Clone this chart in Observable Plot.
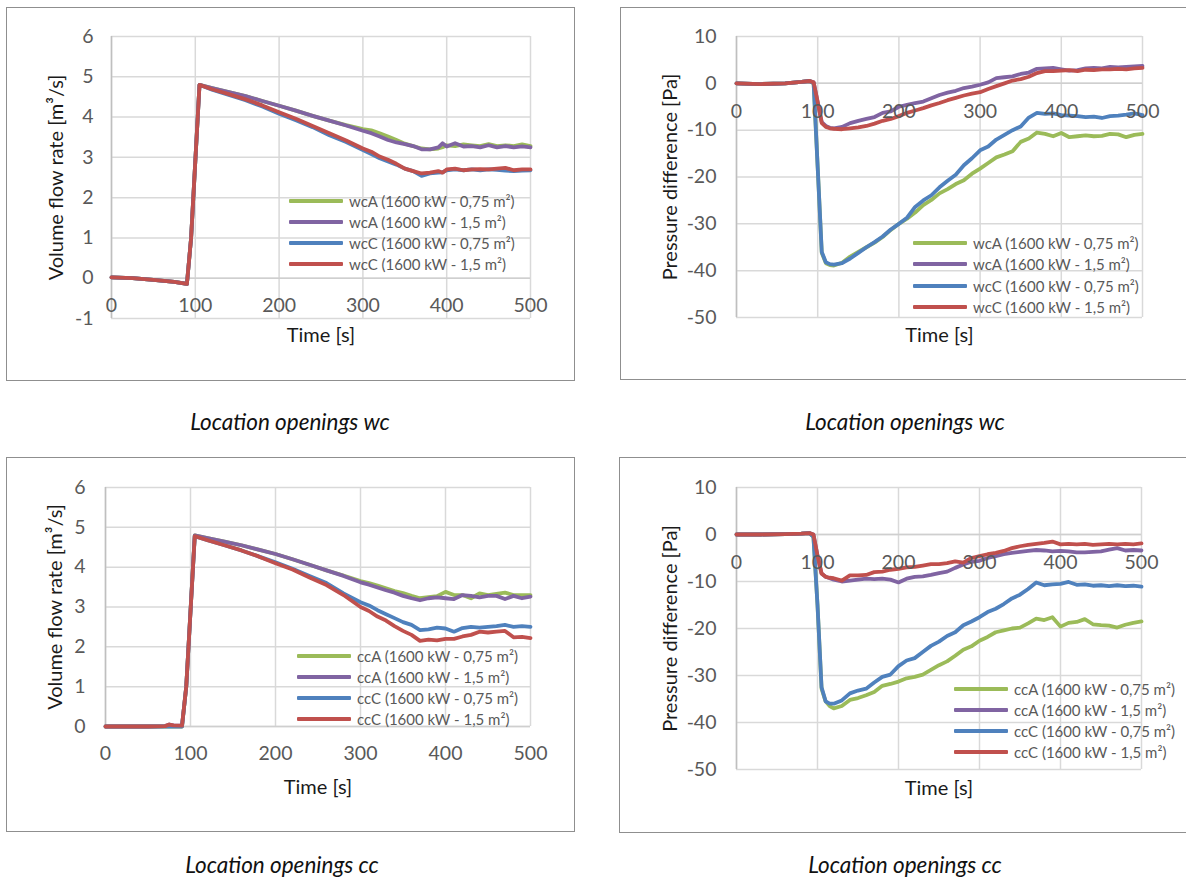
<!DOCTYPE html>
<html><head><meta charset="utf-8">
<script src="https://cdn.jsdelivr.net/npm/d3@7"></script>
<script src="https://cdn.jsdelivr.net/npm/@observablehq/plot@0.6"></script>
<style>
body{margin:0;background:#fff;width:1186px;height:879px;overflow:hidden;position:relative;font-family:Lato,sans-serif}
.frame{position:absolute;border:1.5px solid #8f8f8f;box-sizing:border-box}
.chart{position:absolute}
.lrow{position:absolute;white-space:nowrap;font-size:15px;color:#595959;height:18px;line-height:18px}
.sw{position:absolute;height:4px;top:7px;border-radius:1px}
.caption{position:absolute;font-style:italic;font-size:22.5px;color:#111;white-space:nowrap;transform:translate(-50%,-50%)}
</style></head><body>
<script>
// ---------- data ----------
const seriesColors = ["#9BBB59", "#8064A2", "#4F81BD", "#C0504D"];
const xTicks = [0, 100, 200, 300, 400, 500];
const flowTicks = [-1, 0, 1, 2, 3, 4, 5, 6];
const flowTicksCc = [0, 1, 2, 3, 4, 5, 6];
const pressTicks = [-50, -40, -30, -20, -10, 0, 10];
const wcNames = ["wcA (1600 kW - 0,75 m²)", "wcA (1600 kW - 1,5 m²)", "wcC (1600 kW - 0,75 m²)", "wcC (1600 kW - 1,5 m²)"];
const ccNames = ["ccA (1600 kW - 0,75 m²)", "ccA (1600 kW - 1,5 m²)", "ccC (1600 kW - 0,75 m²)", "ccC (1600 kW - 1,5 m²)"];

// wc flow
const tWcFlow = [0,25,50,75,90,95,105,120,140,160,180,200,220,240,260,280,300,310,320,330,340,350,360,370,380,390,395,400,410,420,430,440,450,460,470,480,490,500];
const wcFlowA075 = [0.02,0,-0.04,-0.09,-0.14,1.0, 4.8,4.72,4.62,4.52,4.4,4.28,4.16,4.03,3.91,3.8, 3.7,3.67,3.6,3.52,3.43,3.34,3.28,3.22,3.2,3.22, 3.25, 3.3,3.28,3.32,3.3,3.28,3.33,3.28,3.3,3.28,3.32,3.28];
const wcFlowA15  = [0.02,0,-0.04,-0.09,-0.14,1.0, 4.8,4.72,4.62,4.52,4.4,4.28,4.16,4.03,3.91,3.79, 3.66,3.6,3.52,3.43,3.37,3.33,3.28,3.2,3.2,3.25, 3.35, 3.27,3.35,3.27,3.28,3.25,3.3,3.25,3.28,3.25,3.27,3.25];
const wcFlowC075 = [0.02,0,-0.04,-0.09,-0.14,1.0, 4.8,4.68,4.55,4.42,4.26,4.08,3.92,3.75,3.55,3.38, 3.18,3.08,2.98,2.9,2.82,2.72,2.66,2.54,2.6,2.62, 2.63, 2.68,2.7,2.68,2.7,2.68,2.7,2.69,2.67,2.66,2.67,2.68];
const wcFlowC15  = [0.02,0,-0.04,-0.09,-0.14,1.0, 4.8,4.69,4.57,4.44,4.29,4.12,3.96,3.78,3.6,3.42, 3.22,3.14,3.02,2.94,2.84,2.72,2.66,2.6,2.62,2.66, 2.62, 2.7,2.72,2.68,2.7,2.71,2.7,2.72,2.74,2.68,2.7,2.7];

// cc flow
const tCcFlow = [0,25,50,70,75,80,90,95,105,120,140,160,180,200,220,240,260,280,300,310,320,330,340,350,360,370,380,390,400,410,420,430,440,450,460,470,480,490,500];
const ccFlowA075 = [0,0,0,0,0,0,0,1.0, 4.8,4.73,4.64,4.55,4.44,4.33,4.2,4.06,3.92,3.79, 3.65,3.6,3.54,3.47,3.4,3.35,3.28,3.22,3.25,3.27,3.38,3.3,3.3,3.22,3.34,3.3,3.33,3.36,3.3,3.3,3.3];
const ccFlowA15  = [0,0,0,0.01,0.05,0.03,0.02,1.0, 4.8,4.73,4.64,4.55,4.44,4.33,4.2,4.06,3.92,3.78, 3.62,3.56,3.49,3.42,3.36,3.28,3.22,3.17,3.22,3.24,3.22,3.2,3.3,3.28,3.24,3.28,3.28,3.2,3.28,3.22,3.26];
const ccFlowC075 = [0,0,0,0,0,0,0,1.0, 4.78,4.68,4.55,4.42,4.27,4.12,3.96,3.78,3.6,3.34, 3.12,3.04,2.92,2.82,2.72,2.62,2.55,2.42,2.44,2.48,2.46,2.38,2.47,2.5,2.48,2.5,2.52,2.55,2.5,2.52,2.5];
const ccFlowC15  = [0,0,0,0.01,0.05,0.03,0.02,1.0, 4.78,4.68,4.55,4.42,4.27,4.1,3.94,3.74,3.55,3.3, 3.0,2.9,2.76,2.66,2.52,2.4,2.3,2.15,2.18,2.16,2.2,2.2,2.26,2.3,2.38,2.36,2.38,2.4,2.24,2.25,2.22];

// pressure time grid
const tPress = [0,30,60,80,90,95,100,105,110,115,120,130,140,150,160,170,180,190,200,210,220,230,240,250,260,270,280,290,300,310,320,330,340,350,360,370,380,390,400,410,420,430,440,450,460,470,480,490,500];

// wc pressure
const wcPressA075 = [0,-0.15,0,0.3,0.5,0,-18,-36.2,-38.4,-38.8,-38.9, -38.3,-37.0,-36.0,-35.0,-34.0,-32.8,-31.3,-30.0,-28.9,-27.6,-26.0,-24.9,-23.5,-22.6,-21.5,-20.7,-19.3,-18.2,-17.0,-15.8,-15.2,-14.5,-12.5,-11.8,-10.5,-10.8,-11.3,-10.6,-11.5,-11.3,-11.1,-11.3,-11.2,-10.8,-10.9,-11.5,-11.0,-10.8];
const wcPressA15  = [0,-0.15,0,0.3,0.5,0.2,-4,-8.3,-9.1,-9.5,-9.6, -9.3,-8.5,-8.0,-7.6,-7.2,-6.3,-6.0,-5.0,-4.6,-4.2,-3.9,-3.2,-2.5,-2.0,-1.6,-1.0,-0.7,-0.3,0.2,1.1,1.3,1.5,2.0,2.3,3.1,3.2,3.3,3.0,2.7,2.8,3.2,3.3,3.2,3.5,3.4,3.5,3.6,3.7];
const wcPressC075 = [0,-0.15,0,0.3,0.5,0,-18,-36,-38.2,-38.6,-38.7, -38.4,-37.4,-36.2,-35.0,-33.9,-32.7,-31.2,-30.0,-28.7,-26.4,-25.0,-23.9,-22.2,-20.8,-19.5,-17.5,-16.0,-14.3,-13.5,-12.0,-11.0,-10.0,-9.2,-7.3,-6.3,-6.5,-6.4,-6.8,-6.9,-7.0,-7.2,-7.1,-7.4,-7.0,-6.9,-6.7,-6.4,-6.8];
const wcPressC15  = [0,-0.15,0,0.3,0.5,0.2,-4,-8.5,-9.3,-9.6,-9.7, -9.8,-9.6,-9.4,-9.1,-8.6,-8.0,-7.6,-7.0,-6.3,-5.8,-5.3,-4.7,-4.2,-3.6,-3.1,-2.6,-2.2,-1.9,-1.2,-0.6,0.0,0.6,0.9,1.4,2.2,2.6,2.6,2.7,2.8,2.6,2.9,2.8,3.0,3.0,3.1,3.0,3.2,3.3];

// cc pressure
const ccPressA075 = [0,0,0.1,0.2,0.3,-0.5,-15,-32.8,-35.5,-36.5,-37.0, -36.5,-35.2,-34.8,-34.2,-33.5,-32.2,-31.8,-31.3,-30.6,-30.3,-29.8,-28.8,-27.8,-27.0,-25.8,-24.5,-23.8,-22.6,-21.8,-20.8,-20.4,-20.0,-19.8,-18.9,-17.9,-18.2,-17.6,-19.6,-18.8,-18.6,-18.0,-19.1,-19.3,-19.4,-19.8,-19.2,-18.8,-18.5];
const ccPressA15  = [0,0,0.1,0.2,0.3,0,-4.5,-8.3,-9.0,-9.3,-9.6, -10.0,-9.8,-9.6,-9.4,-9.5,-9.4,-9.6,-10.2,-9.4,-9.0,-8.9,-8.6,-8.2,-7.9,-7.1,-6.4,-5.8,-5.6,-5.0,-4.6,-4.2,-3.9,-3.7,-3.5,-3.3,-3.4,-3.6,-3.5,-3.6,-3.8,-3.8,-3.7,-3.6,-3.2,-2.9,-3.4,-3.3,-3.4];
const ccPressC075 = [0,0,0.1,0.2,0.3,-0.5,-15,-32.5,-35.5,-36.0,-36.0, -35.3,-33.8,-33.2,-32.8,-31.5,-30.3,-29.8,-28.0,-26.8,-26.3,-25.0,-23.7,-22.8,-21.6,-20.8,-19.3,-18.5,-17.6,-16.5,-15.8,-14.8,-13.6,-12.8,-11.6,-10.2,-10.8,-10.6,-10.5,-10.1,-10.7,-10.6,-10.9,-10.8,-11.0,-10.8,-11.0,-10.9,-11.1];
const ccPressC15  = [0,0,0.1,0.2,0.3,0,-4.5,-8.3,-9.0,-9.2,-9.3, -9.8,-8.7,-8.7,-8.6,-8.0,-7.9,-7.5,-7.3,-7.0,-6.9,-6.6,-6.3,-6.3,-6.1,-5.7,-6.0,-5.0,-4.6,-4.2,-3.9,-3.5,-2.9,-2.5,-2.2,-2.0,-1.8,-1.5,-2.1,-2.0,-2.1,-2.0,-2.2,-2.1,-2.0,-2.1,-2.0,-2.1,-1.9];

// ---------- drawing ----------
const FONT = "Lato, sans-serif";
function panel(cfg) {
  const {box, svg, m, times, series, yDomain, yTicks, yLabel, tickDx, tickDy, titleDy, yTitleDx, legend, names} = cfg;
  const fr = document.createElement("div");
  fr.className = "frame";
  Object.assign(fr.style, {left: box[0] + "px", top: box[1] + "px", width: box[2] + "px", height: box[3] + "px"});
  document.body.appendChild(fr);

  const marks = [
    Plot.ruleY(yTicks, {stroke: "#d9d9d9", strokeWidth: 1.5}),
    Plot.ruleX(xTicks, {stroke: "#d9d9d9", strokeWidth: 1.5}),
    Plot.ruleX([0], {stroke: "#bfbfbf", strokeWidth: 1.5}),
    Plot.ruleY([0], {stroke: "#cfcfcf", strokeWidth: 1.5})
  ];
  series.forEach((vals, k) => {
    marks.push(Plot.line(vals, {x: (d, i) => times[i], y: d => d, stroke: seriesColors[k], strokeWidth: 3.8, strokeLinejoin: "round", strokeLinecap: "round"}));
  });
  marks.push(
    Plot.text(xTicks, {x: d => d, y: () => 0, dy: tickDy, text: d => String(d), fill: "#595959", fontSize: 19.5, fontFamily: FONT, lineAnchor: "middle"}),
    Plot.text(yTicks, {y: d => d, frameAnchor: "left", dx: tickDx, textAnchor: "end", lineAnchor: "middle", text: d => String(d), fill: "#595959", fontSize: 19.5, fontFamily: FONT}),
    Plot.text(["Time [s]"], {frameAnchor: "bottom", dy: titleDy, textAnchor: "middle", lineAnchor: "middle", text: d => d, fill: "#1a1a1a", fontSize: 20, fontFamily: FONT}),
    Plot.text([yLabel], {frameAnchor: "left", dx: yTitleDx, rotate: -90, textAnchor: "middle", lineAnchor: "middle", text: d => d, fill: "#1a1a1a", fontSize: 20, fontFamily: FONT})
  );
  const chart = Plot.plot({
    width: svg[2], height: svg[3],
    marginLeft: m[0], marginRight: m[1], marginTop: m[2], marginBottom: m[3],
    x: {domain: [0, 500], axis: null},
    y: {domain: yDomain, axis: null},
    style: {background: "transparent", fontFamily: FONT, overflow: "visible"},
    marks
  });
  const wrap = document.createElement("div");
  wrap.className = "chart";
  Object.assign(wrap.style, {left: svg[0] + "px", top: svg[1] + "px"});
  wrap.appendChild(chart);
  document.body.appendChild(wrap);

  // legend (HTML)
  names.forEach((nm, k) => {
    const row = document.createElement("div");
    row.className = "lrow";
    Object.assign(row.style, {left: legend.x + "px", top: (legend.ys[k] - 9) + "px", paddingLeft: (legend.w + 6) + "px"});
    const sw = document.createElement("span");
    sw.className = "sw";
    Object.assign(sw.style, {left: "0px", width: legend.w + "px", background: seriesColors[k]});
    row.appendChild(sw);
    row.appendChild(document.createTextNode(nm));
    document.body.appendChild(row);
  });
}

panel({box: [6, 7, 569, 374], svg: [6, 7, 569, 374], m: [105, 45, 29, 63],
  times: tWcFlow, series: [wcFlowA075, wcFlowA15, wcFlowC075, wcFlowC15],
  yDomain: [-1, 6], yTicks: flowTicks, yLabel: "Volume flow rate [m³/s]",
  tickDx: -18, tickDy: 28, titleDy: 17, yTitleDx: -55,
  legend: {x: 289, w: 54, ys: [201, 222, 243, 264]}, names: wcNames});

panel({box: [620, 7, 600, 373], svg: [620, 7, 566, 373], m: [116, 44, 29, 63],
  times: tPress, series: [wcPressA075, wcPressA15, wcPressC075, wcPressC15],
  yDomain: [-50, 10], yTicks: pressTicks, yLabel: "Pressure difference [Pa]",
  tickDx: -20, tickDy: 28, titleDy: 18, yTitleDx: -66,
  legend: {x: 913, w: 54, ys: [243, 264, 286, 307]}, names: wcNames});

panel({box: [6, 457, 569, 375], svg: [6, 457, 569, 375], m: [99, 45, 30, 106],
  times: tCcFlow, series: [ccFlowA075, ccFlowA15, ccFlowC075, ccFlowC15],
  yDomain: [0, 6], yTicks: flowTicksCc, yLabel: "Volume flow rate [m³/s]",
  tickDx: -20, tickDy: 27, titleDy: 61, yTitleDx: -50,
  legend: {x: 297, w: 54, ys: [656, 677, 698, 719]}, names: ccNames});

panel({box: [619, 457, 600, 376], svg: [619, 457, 567, 376], m: [117, 45, 30, 64],
  times: tPress, series: [ccPressA075, ccPressA15, ccPressC075, ccPressC15],
  yDomain: [-50, 10], yTicks: pressTicks, yLabel: "Pressure difference [Pa]",
  tickDx: -20, tickDy: 28, titleDy: 19, yTitleDx: -66,
  legend: {x: 954, w: 54, ys: [689, 710, 731, 752]}, names: ccNames});

// captions
[["Location openings wc", 290, 421], ["Location openings wc", 905, 421],
 ["Location openings cc", 282, 864], ["Location openings cc", 905, 864]].forEach(([t, x, y]) => {
  const c = document.createElement("div");
  c.className = "caption";
  Object.assign(c.style, {left: x + "px", top: y + "px"});
  c.textContent = t;
  document.body.appendChild(c);
});
</script>
</body></html>
